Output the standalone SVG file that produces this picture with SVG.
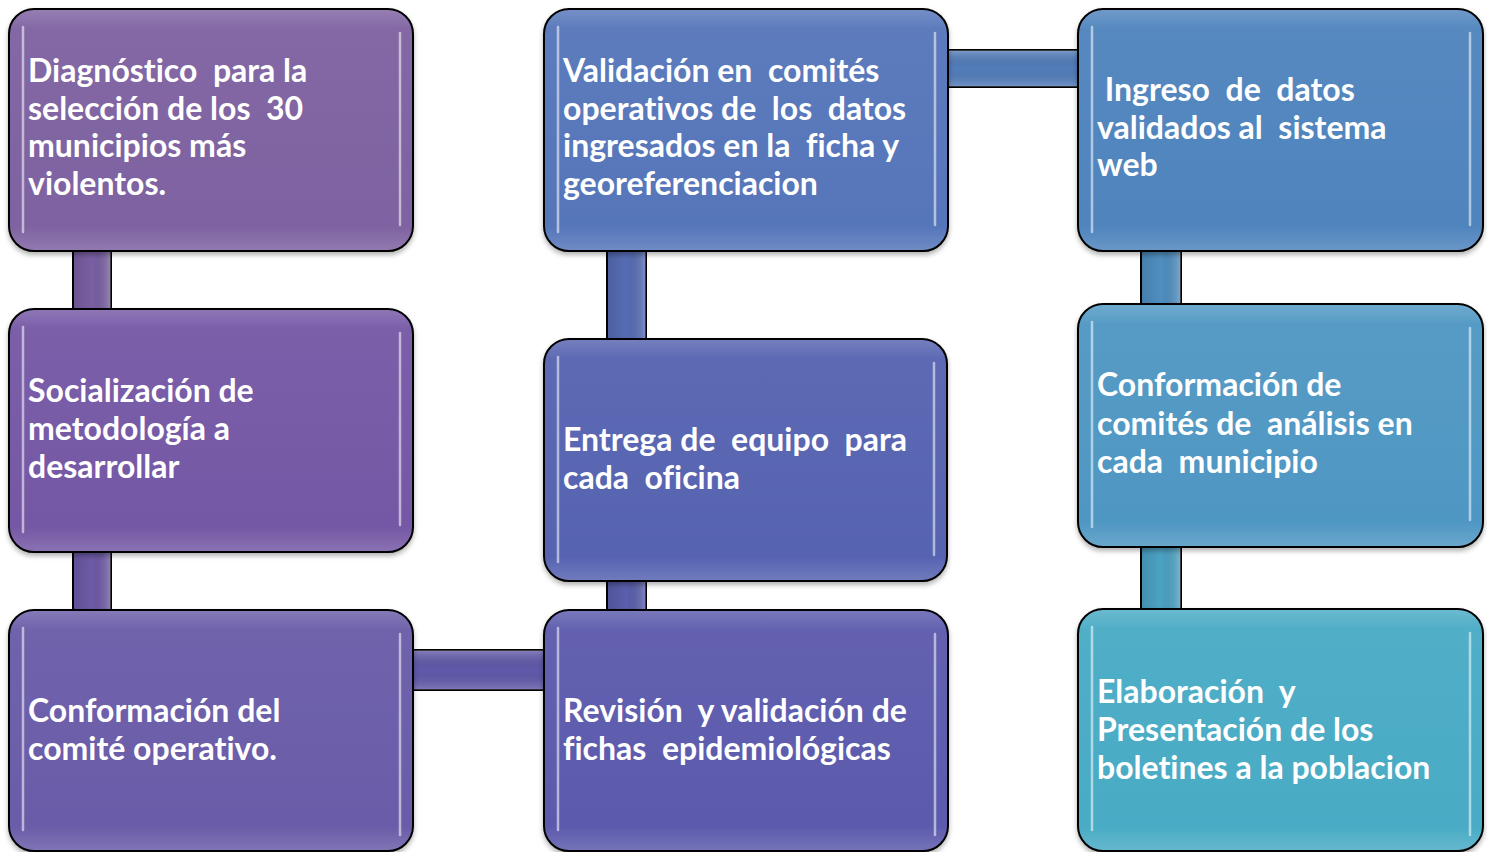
<svg xmlns="http://www.w3.org/2000/svg" width="1487" height="852" viewBox="0 0 1487 852">
<defs>
<filter id="sh" x="-5%" y="-5%" width="110%" height="115%">
<feDropShadow dx="0" dy="3" stdDeviation="2.5" flood-color="#000" flood-opacity="0.3"/>
</filter>
<linearGradient id="gloss" x1="0" y1="0" x2="0" y2="1">
<stop offset="0" stop-color="#fff" stop-opacity="0.18"/>
<stop offset="0.08" stop-color="#fff" stop-opacity="0.04"/>
<stop offset="0.9" stop-color="#fff" stop-opacity="0"/>
<stop offset="1" stop-color="#fff" stop-opacity="0.15"/>
</linearGradient>
<linearGradient id="vbar" x1="0" y1="0" x2="1" y2="0">
<stop offset="0" stop-color="#000" stop-opacity="0.12"/>
<stop offset="0.5" stop-color="#000" stop-opacity="0"/>
<stop offset="1" stop-color="#fff" stop-opacity="0.25"/>
</linearGradient>
<linearGradient id="hbar" x1="0" y1="0" x2="0" y2="1">
<stop offset="0" stop-color="#fff" stop-opacity="0.25"/>
<stop offset="0.5" stop-color="#000" stop-opacity="0"/>
<stop offset="1" stop-color="#fff" stop-opacity="0.2"/>
</linearGradient>
</defs>
<style>
.box{stroke:#000;stroke-width:2;}
.gl{fill:url(#gloss);stroke:none;}
.hl{stroke:#fff;stroke-opacity:0.55;stroke-width:2.5;stroke-linecap:round;fill:none;}
.bar{stroke:#000;stroke-width:2;}
.t{font-family:Lato,"Open Sans","Liberation Sans",sans-serif;font-weight:700;font-size:32px;fill:#fff;white-space:pre;font-variant-ligatures:none;}
</style>
<rect width="1487" height="852" fill="#fff"/>
<g id="connectors">
<rect class="bar" x="73" y="245" width="38" height="70" fill="#7a5fa3"/>
<rect x="73" y="245" width="38" height="70" fill="url(#vbar)"/>
<rect class="bar" x="73" y="546" width="38" height="70" fill="#6e5aa7"/>
<rect x="73" y="546" width="38" height="70" fill="url(#vbar)"/>
<rect class="bar" x="407" y="650" width="143" height="40" fill="#6059aa"/>
<rect x="407" y="650" width="143" height="40" fill="url(#hbar)"/>
<rect class="bar" x="607" y="575" width="39" height="41" fill="#5a5fae"/>
<rect x="607" y="575" width="39" height="41" fill="url(#vbar)"/>
<rect class="bar" x="607" y="245" width="39" height="100" fill="#566db5"/>
<rect x="607" y="245" width="39" height="100" fill="url(#vbar)"/>
<rect class="bar" x="942" y="50" width="142" height="37" fill="#527dbb"/>
<rect x="942" y="50" width="142" height="37" fill="url(#hbar)"/>
<rect class="bar" x="1141" y="245" width="40" height="65" fill="#4f8fc1"/>
<rect x="1141" y="245" width="40" height="65" fill="url(#vbar)"/>
<rect class="bar" x="1141" y="541" width="40" height="74" fill="#4ca2c4"/>
<rect x="1141" y="541" width="40" height="74" fill="url(#vbar)"/>
</g>
<g id="n1">
<rect class="box" x="9" y="9" width="404" height="242" rx="25" fill="#7e62a1" filter="url(#sh)"/>
<rect class="gl" x="10" y="10" width="402" height="240" rx="24"/>
<path class="hl" d="M23 27 V232 M400 33 V225"/>
<text class="t" x="28" y="82">Diagnóstico  para la</text>
<text class="t" x="28" y="120">selección de los  30</text>
<text class="t" x="28" y="157">municipios más</text>
<text class="t" x="28" y="195">violentos.</text>
</g>
<g id="n2">
<rect class="box" x="9" y="309" width="404" height="243" rx="25" fill="#7459a5" filter="url(#sh)"/>
<rect class="gl" x="10" y="310" width="402" height="241" rx="24"/>
<path class="hl" d="M23 327 V532 M400 333 V525"/>
<text class="t" x="28" y="402">Socialización de</text>
<text class="t" x="28" y="440">metodología a</text>
<text class="t" x="28" y="478">desarrollar</text>
</g>
<g id="n3">
<rect class="box" x="9" y="610" width="404" height="241" rx="25" fill="#6a5ba8" filter="url(#sh)"/>
<rect class="gl" x="10" y="611" width="402" height="239" rx="24"/>
<path class="hl" d="M23 628 V830 M400 634 V835"/>
<text class="t" x="28" y="722">Conformación del</text>
<text class="t" x="28" y="760">comité operativo.</text>
</g>
<g id="n4">
<rect class="box" x="544" y="9" width="404" height="242" rx="25" fill="#5676ba" filter="url(#sh)"/>
<rect class="gl" x="545" y="10" width="402" height="240" rx="24"/>
<path class="hl" d="M558 27 V232 M935 33 V225"/>
<text class="t" x="563" y="82">Validación en  comités</text>
<text class="t" x="563" y="120">operativos de  los  datos</text>
<text class="t" x="563" y="157">ingresados en la  ficha y</text>
<text class="t" x="563" y="195">georeferenciacion</text>
</g>
<g id="n5">
<rect class="box" x="544" y="339" width="403" height="242" rx="25" fill="#5664b0" filter="url(#sh)"/>
<rect class="gl" x="545" y="340" width="401" height="240" rx="24"/>
<path class="hl" d="M558 357 V562 M934 363 V555"/>
<text class="t" x="563" y="451">Entrega de  equipo  para</text>
<text class="t" x="563" y="489">cada  oficina</text>
</g>
<g id="n6">
<rect class="box" x="544" y="610" width="404" height="241" rx="25" fill="#5c5aac" filter="url(#sh)"/>
<rect class="gl" x="545" y="611" width="402" height="239" rx="24"/>
<path class="hl" d="M558 628 V830 M935 634 V835"/>
<text class="t" x="563" y="722">Revisión  y validación de</text>
<text class="t" x="563" y="760">fichas  epidemiológicas</text>
</g>
<g id="n7">
<rect class="box" x="1078" y="9" width="405" height="242" rx="25" fill="#4f84bd" filter="url(#sh)"/>
<rect class="gl" x="1079" y="10" width="403" height="240" rx="24"/>
<path class="hl" d="M1092 27 V232 M1470 33 V225"/>
<text class="t" x="1097" y="101"> Ingreso  de  datos</text>
<text class="t" x="1097" y="139">validados al  sistema</text>
<text class="t" x="1097" y="176">web</text>
</g>
<g id="n8">
<rect class="box" x="1078" y="304" width="405" height="243" rx="25" fill="#4f97c3" filter="url(#sh)"/>
<rect class="gl" x="1079" y="305" width="403" height="241" rx="24"/>
<path class="hl" d="M1092 322 V527 M1470 328 V520"/>
<text class="t" x="1097" y="396">Conformación de</text>
<text class="t" x="1097" y="435">comités de  análisis en</text>
<text class="t" x="1097" y="473">cada  municipio</text>
</g>
<g id="n9">
<rect class="box" x="1078" y="609" width="405" height="242" rx="25" fill="#4aabc5" filter="url(#sh)"/>
<rect class="gl" x="1079" y="610" width="403" height="240" rx="24"/>
<path class="hl" d="M1092 627 V830 M1470 633 V835"/>
<text class="t" x="1097" y="703">Elaboración  y</text>
<text class="t" x="1097" y="741">Presentación de los</text>
<text class="t" x="1097" y="779">boletines a la poblacion</text>
</g>
</svg>
